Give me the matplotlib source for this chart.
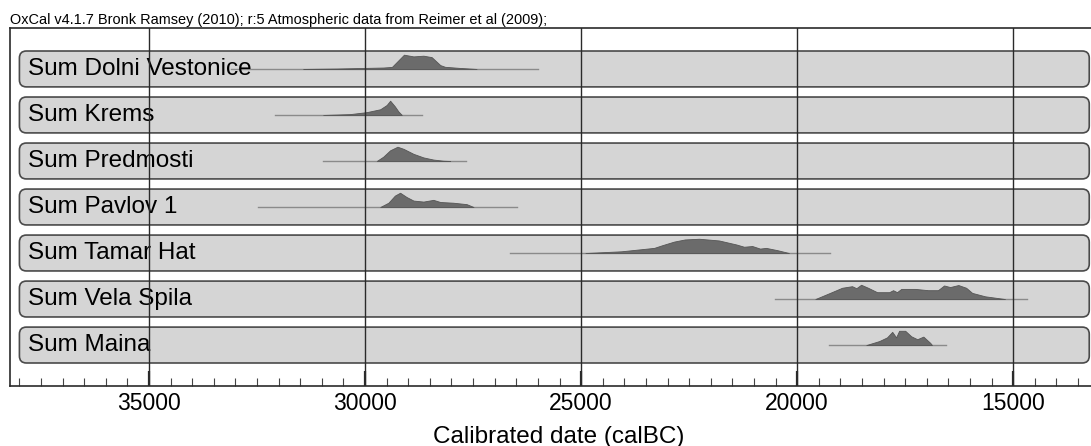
import numpy as np
import matplotlib
matplotlib.use("Agg")
import matplotlib.pyplot as plt
from matplotlib.patches import FancyBboxPatch
from matplotlib.ticker import MultipleLocator

plt.rcParams['font.family'] = ['Liberation Sans', 'DejaVu Sans']

# sites, top to bottom
sites = ['Sum Dolni Vestonice', 'Sum Krems', 'Sum Predmosti', 'Sum Pavlov 1',
         'Sum Tamar Hat', 'Sum Vela Spila', 'Sum Maina']

# thin range line (calBC, from - to)
range_from = [33100, 32080, 30970, 32470, 26640, 20510, 19260]
range_to = [26000, 28690, 27660, 26490, 19240, 14680, 16550]

# summed probability (year calBC, relative density)
dolni_years = [31430, 30660, 30040, 29580, 29380, 29100, 28880, 28650, 28460, 28260, 28150, 27800, 27420]
dolni_prob = [0, 0.03, 0.07, 0.10, 0.14, 1.0, 0.88, 0.93, 0.83, 0.27, 0.15, 0.07, 0]

krems_years = [30970, 30350, 29960, 29650, 29500, 29420, 29310, 29230, 29150]
krems_prob = [0, 0.06, 0.2, 0.4, 0.7, 1.0, 0.6, 0.25, 0]

predmosti_years = [29730, 29580, 29420, 29250, 29110, 28880, 28650, 28420, 28190, 28030]
predmosti_prob = [0, 0.3, 0.75, 1.0, 0.85, 0.5, 0.25, 0.1, 0.02, 0]

pavlov_years = [29650, 29460, 29310, 29190, 29040, 28880, 28650, 28420, 28260, 27960, 27650, 27490]
pavlov_prob = [0, 0.3, 0.8, 1.0, 0.7, 0.45, 0.38, 0.5, 0.35, 0.3, 0.2, 0]

tamar_years = [24900, 24070, 23310, 23120, 22850, 22600, 22270, 21810, 21410, 21230,
               21040, 20860, 20720, 20460, 20190]
tamar_prob = [0, 0.12, 0.36, 0.55, 0.8, 0.95, 1.0, 0.88, 0.6, 0.44, 0.49, 0.31, 0.36, 0.2, 0]

vela_years = [19580, 19240, 18960, 18730, 18630, 18520, 18360, 18150, 17870, 17780, 17690,
              17590, 17270, 16970, 16740, 16600, 16460, 16270, 16090, 15950, 15650, 15190]
vela_prob = [0, 0.43, 0.79, 0.9, 0.76, 1.0, 0.79, 0.48, 0.48, 0.62, 0.48,
             0.71, 0.71, 0.62, 0.62, 0.95, 0.84, 0.98, 0.79, 0.43, 0.19, 0]

maina_years = [18400, 18100, 17920, 17800, 17710, 17640, 17500, 17360, 17220, 17080, 16920, 16880]
maina_prob = [0, 0.26, 0.5, 0.86, 0.5, 0.93, 0.93, 0.57, 0.38, 0.55, 0.14, 0]

dist_years = [dolni_years, krems_years, predmosti_years, pavlov_years,
              tamar_years, vela_years, maina_years]
dist_prob = [dolni_prob, krems_prob, predmosti_prob, pavlov_prob,
             tamar_prob, vela_prob, maina_prob]

major_ticks = [35000, 30000, 25000, 20000, 15000]

title = 'OxCal v4.1.7 Bronk Ramsey (2010); r:5 Atmospheric data from Reimer et al (2009);'
xlabel = 'Calibrated date (calBC)'

W, H = 1091, 446
ax_top, ax_bot = 28, 386
fig = plt.figure(figsize=(W / 100, H / 100), dpi=100)
ax = fig.add_axes([10 / W, (H - ax_bot) / H, (1094 - 10) / W, (ax_bot - ax_top) / H])

x_left, x_right = 38218, 13130
n = len(sites)
ax.set_xlim(x_left, x_right)
ax.set_ylim(-0.89, n - 1 + 0.89)

# pixels -> data, for rounding the boxes
yr_per_px = (x_left - x_right) / (1094 - 10)
unit_per_px = (n - 1 + 1.78) / (ax_bot - ax_top)

box_h = 0.78
peak_h = 0.31
box_left, box_right = 38000, 13240

for i, site in enumerate(sites):
    y = n - 1 - i
    box = FancyBboxPatch((box_right, y - box_h / 2), box_left - box_right, box_h,
                         boxstyle='round,pad=0,rounding_size=%f' % (7 * yr_per_px),
                         mutation_aspect=unit_per_px / yr_per_px,
                         facecolor='#d5d5d5', edgecolor='#4a4a4a', lw=1.2, zorder=1)
    ax.add_patch(box)

    ax.plot([range_from[i], range_to[i]], [y, y], color='#8a8a8a', lw=1.0, zorder=2)

    yrs = np.array(dist_years[i])
    p = np.array(dist_prob[i]) / max(dist_prob[i])
    ax.fill_between(yrs, y, y + p * peak_h, facecolor='#6b6b6b', edgecolor='#555555',
                    lw=0.6, zorder=3)

    ax.text(37800, y, site, fontsize=17.5, va='center', ha='left', zorder=4)

for t in major_ticks:
    ax.axvline(t, color='#2a2a2a', lw=1.0, zorder=5)

ax.xaxis.set_minor_locator(MultipleLocator(500))
ax.set_xticks(major_ticks)
ax.set_xticklabels([str(t) for t in major_ticks])
ax.tick_params(axis='x', which='major', direction='in', length=11, width=1.6,
               labelsize=16.5, pad=4, color='#2a2a2a')
ax.tick_params(axis='x', which='minor', direction='in', length=6, width=0.8, color='#444444')
ax.set_yticks([])

for s in ['top', 'bottom', 'left', 'right']:
    ax.spines[s].set_linewidth(1.2)
    ax.spines[s].set_color('#2a2a2a')

ax.set_xlabel(xlabel, fontsize=17.5, labelpad=8)
ax.xaxis.label.set_x(0.506)

fig.text(10 / W, 1 - 20 / H, title, fontsize=10.45, ha='left', va='center')

fig.savefig('out.png', dpi=100)
